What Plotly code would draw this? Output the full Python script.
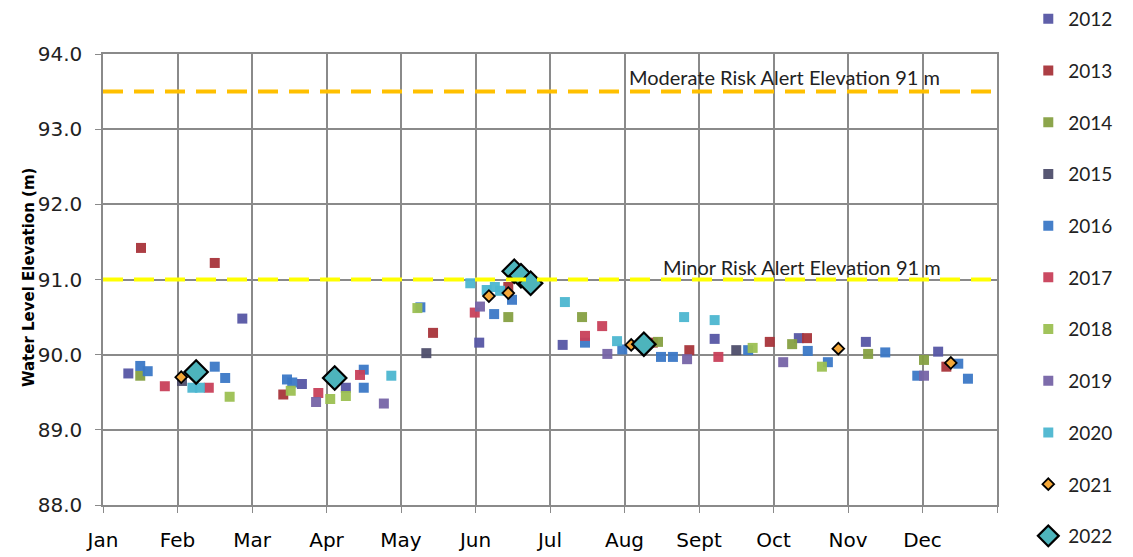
import plotly.graph_objects as go

# x = months since Jan 1 (0 = Jan, 1 = Feb, ...), y = water level elevation (m)
months = ["Jan", "Feb", "Mar", "Apr", "May", "Jun", "Jul", "Aug", "Sept", "Oct", "Nov", "Dec", ""]

x_2012 = [0.34, 1.87, 2.67, 3.26, 5.05, 6.17, 8.21, 9.34, 10.24, 11.21]
y_2012 = [89.75, 90.48, 89.61, 89.56, 90.16, 90.13, 90.21, 90.22, 90.17, 90.04]

x_2013 = [0.51, 1.50, 2.42, 4.43, 5.44, 7.38, 7.87, 8.95, 9.45, 11.32]
y_2013 = [91.42, 91.22, 89.47, 90.29, 90.90, 90.16, 90.06, 90.17, 90.22, 89.84]

x_2014 = [0.50, 5.44, 6.43, 7.45, 9.25, 10.27, 11.02]
y_2014 = [89.72, 90.50, 90.50, 90.17, 90.14, 90.01, 89.93]

x_2015 = [1.06, 4.34, 8.50]
y_2015 = [89.65, 90.02, 90.06]

x_2016 = [0.50, 0.60, 1.50, 1.64, 2.47, 2.54, 3.50, 3.50, 4.26, 5.25, 5.49, 6.47,
          6.97, 7.49, 7.65, 8.66, 9.46, 9.73, 10.50, 10.93, 11.48, 11.61]
y_2016 = [89.85, 89.78, 89.84, 89.69, 89.67, 89.63, 89.80, 89.56, 90.63, 90.54, 90.73, 90.16,
          90.07, 89.97, 89.97, 90.06, 90.05, 89.90, 90.03, 89.72, 89.88, 89.68]

x_2017 = [0.83, 1.42, 2.89, 3.45, 4.99, 6.47, 6.70, 8.26]
y_2017 = [89.58, 89.56, 89.49, 89.73, 90.56, 90.25, 90.38, 89.97]

x_2018 = [1.70, 2.52, 3.05, 3.26, 4.22, 8.72, 9.65]
y_2018 = [89.44, 89.52, 89.41, 89.45, 90.62, 90.09, 89.84]

x_2019 = [2.86, 3.77, 5.06, 6.77, 7.84, 9.13, 11.02]
y_2019 = [89.37, 89.35, 90.64, 90.01, 89.94, 89.90, 89.72]

x_2020 = [1.20, 1.30, 3.87, 4.93, 5.15, 5.26, 5.33, 6.20, 6.90, 7.80, 8.21]
y_2020 = [89.56, 89.56, 89.72, 90.95, 90.86, 90.90, 90.85, 90.70, 90.18, 90.50, 90.46]

x_2021 = [1.05, 5.18, 5.44, 7.09, 9.87, 11.38]
y_2021 = [89.70, 90.78, 90.82, 90.13, 90.08, 89.89]

x_2022 = [1.25, 3.11, 5.52, 5.61, 5.74, 7.26]
y_2022 = [89.77, 89.69, 91.11, 91.05, 90.95, 90.14]

moderate_level = 93.5
minor_level = 91.0

series = [
    ("2012", x_2012, y_2012, "#5656a4"),
    ("2013", x_2013, y_2013, "#a8343a"),
    ("2014", x_2014, y_2014, "#86a042"),
    ("2015", x_2015, y_2015, "#4e4e6c"),
    ("2016", x_2016, y_2016, "#3b78c6"),
    ("2017", x_2017, y_2017, "#c8405a"),
    ("2018", x_2018, y_2018, "#9cc052"),
    ("2019", x_2019, y_2019, "#7664a6"),
    ("2020", x_2020, y_2020, "#4cb6d0"),
]

fig = go.Figure()

for name, xs, ys, colour in series:
    fig.add_trace(go.Scatter(
        x=xs, y=ys, name=name, mode="markers", legendgroup=name,
        marker=dict(symbol="square", size=10, color=colour, opacity=0.95,
                    line=dict(width=0))
    ))

fig.add_trace(go.Scatter(
    x=x_2021, y=y_2021, name="2021", mode="markers", legendgroup="2021",
    marker=dict(symbol="diamond", size=9, color="#f4a83a",
                line=dict(width=1.8, color="black"))
))
fig.add_trace(go.Scatter(
    x=x_2022, y=y_2022, name="2022", mode="markers", legendgroup="2022",
    marker=dict(symbol="diamond", size=18, color="#4db4bc",
                line=dict(width=2.2, color="black"))
))

# alert levels
fig.add_hline(y=moderate_level, opacity=1, layer="above",
              line=dict(color="#ffc000", width=4, dash="20px,11px"))
fig.add_hline(y=minor_level, opacity=1, layer="above",
              line=dict(color="#ffff00", width=4, dash="20px,11px"))

fig.add_annotation(x=7.03, y=93.69, text="Moderate Risk Alert Elevation 91 m",
                   showarrow=False, xanchor="left", yanchor="middle",
                   font=dict(size=20, color="#222222", family="Lato"))
fig.add_annotation(x=7.49, y=91.17, text="Minor Risk Alert Elevation 91 m",
                   showarrow=False, xanchor="left", yanchor="middle",
                   font=dict(size=20, color="#222222", family="Lato"))

# y axis title (placed by hand, the margin is fixed)
fig.add_annotation(x=-0.083, y=0.505, xref="paper", yref="paper",
                   text="<b>Water Level Elevation (m)</b>", textangle=-90,
                   showarrow=False, xanchor="center", yanchor="middle",
                   font=dict(size=15, color="black", family="DejaVu Sans"))

fig.update_xaxes(
    range=[0, 12],
    tickvals=list(range(13)),
    ticktext=months,
    showgrid=True, gridcolor="#8a8a8a", gridwidth=1.5,
    showline=True, linecolor="#8a8a8a", linewidth=1.5, mirror=True,
    ticks="outside", ticklen=6, tickcolor="#8a8a8a",
    ticklabelstandoff=10,
    zeroline=False, automargin=False,
    tickfont=dict(size=20, color="black", family="DejaVu Sans"),
)
fig.update_yaxes(
    range=[88, 94],
    dtick=1, tickformat=".1f",
    showgrid=True, gridcolor="#8a8a8a", gridwidth=1.5,
    showline=True, linecolor="#8a8a8a", linewidth=1.5, mirror=True,
    ticks="outside", ticklen=6, tickcolor="#8a8a8a",
    ticklabelstandoff=9,
    zeroline=False, automargin=False,
    tickfont=dict(size=20, color="#222222", family="DejaVu Sans"),
)

fig.update_layout(
    width=1133, height=557,
    template="simple_white",
    plot_bgcolor="white", paper_bgcolor="white",
    margin=dict(l=103, r=136, t=54, b=52, autoexpand=False),
    showlegend=True,
    legend=dict(x=1.035, y=1.021, yref="container", xanchor="left", yanchor="top",
                tracegroupgap=24, itemwidth=30, maxheight=557,
                font=dict(size=19, color="#222222", family="Lato")),
)

# page body margin would shift the figure by 8px
fig.write_html("out.html", config={"displayModeBar": False},
               post_script="document.body.style.margin='0';")
